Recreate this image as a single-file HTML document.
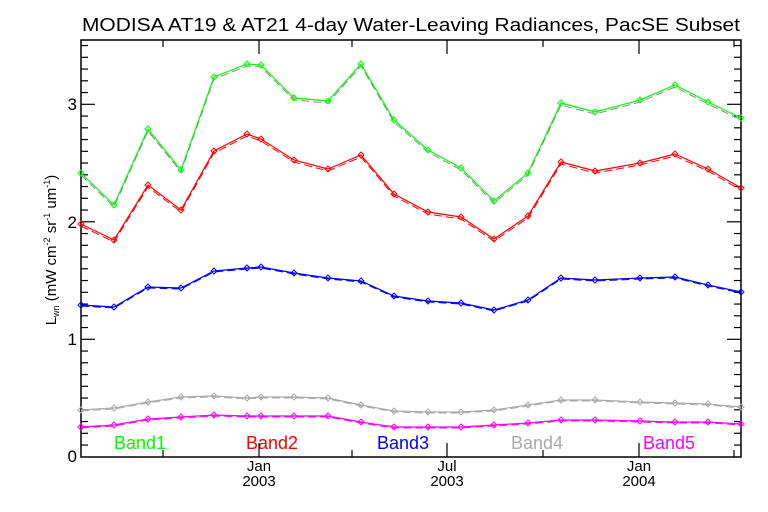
<!DOCTYPE html><html><head><style>body{margin:0;background:#fff}svg{display:block}text{font-family:"Liberation Sans",sans-serif}</style></head><body>
<svg id="s" width="768" height="512" xmlns="http://www.w3.org/2000/svg">
<rect width="768" height="512" fill="#fff"/>
<text x="82" y="31" font-size="18" textLength="658" lengthAdjust="spacingAndGlyphs">MODISA AT19 &amp; AT21 4-day Water-Leaving Radiances, PacSE Subset</text>
<rect x="81" y="40" width="660" height="417" fill="none" stroke="#000" stroke-width="1.5"/>
<g font-size="17" text-anchor="end"><text x="77" y="462">0</text><text x="77" y="345">1</text><text x="77" y="228">2</text><text x="77" y="110">3</text></g>
<g font-size="15" text-anchor="middle"><text x="259" y="471">Jan</text><text x="259" y="486">2003</text><text x="447" y="471">Jul</text><text x="447" y="486">2003</text><text x="639" y="471">Jan</text><text x="639" y="486">2004</text></g>
<text transform="translate(56,250) rotate(-90)" font-size="15" text-anchor="middle">L<tspan font-size="9" dy="3">wn</tspan><tspan dy="-3"> (mW cm</tspan><tspan font-size="9" dy="-6">-2</tspan><tspan dy="6"> sr</tspan><tspan font-size="9" dy="-6">-1</tspan><tspan dy="6"> um</tspan><tspan font-size="9" dy="-6">-1</tspan><tspan dy="6">)</tspan></text>
<g font-size="18"><text x="114" y="449" fill="#00ff00">Band1</text><text x="246" y="449" fill="#ff0000">Band2</text><text x="377" y="449" fill="#0000ff">Band3</text><text x="511" y="449" fill="#aaaaaa">Band4</text><text x="643" y="449" fill="#ff00ff">Band5</text></g>
<g id="g"></g>
</svg>
<script>
var g=document.getElementById('g'),h='';
function ln(a,b,c,d,col,w,da){h+='<line x1="'+a+'" y1="'+b+'" x2="'+c+'" y2="'+d+'" stroke="'+(col||'#000')+'" stroke-width="'+(w||1.2)+'"'+(da?' stroke-dasharray="'+da+'"':'')+'/>';}
for(var i=1;i<36;i++){var y=456.8-i*11.75;var L=i%10==0?14:7;ln(81,y,81+L,y);ln(741,y,741-L,y);}
[[163,7],[259,14],[352,7],[447,14],[543,7],[639,14],[734,7]].forEach(function(t){ln(t[0],457,t[0],457-t[1]);ln(t[0],40,t[0],40+t[1]);});
var X=[81,114,148,181,214,247,261,294,328,361,394,428,461,494,528,561,595,640,675,708,741];
var S=[['#00ff00',[173,205,129,170,77,64,65,98,101,64,120,150,168,201,173,103,112,100,85,102,118]],
['#ff0000',[224,240,185,210,151,134,139,160,169,155,194,212,217,239,216,162,171,163,154,169,188]],
['#0000ff',[305,307,287,288,271,268,267,273,278,281,296,301,303,310,300,278,280,278,277,285,292]],
['#aaaaaa',[410,408,402,397,396,398,397,397,398,405,411,412,412,410,405,400,400,402,403,404,407]],
['#ff00ff',[427,425,419,417,415,416,416,416,416,422,427,427,427,425,423,420,420,421,422,422,424]]];
S.forEach(function(s,k){var c=s[0],v=s[1],p='',q='';
for(var i=0;i<X.length;i++){p+=X[i]+','+v[i]+' ';q+=X[i]+','+(v[i]+(k<2?2:1))+' ';}
h+='<polyline points="'+q+'" fill="none" stroke="'+(k==0?'#888':c)+'" stroke-width="1" stroke-dasharray="8,4"/>';
h+='<polyline points="'+p+'" fill="none" stroke="'+c+'" stroke-width="1.2"/>';
for(var i=0;i<X.length;i++){h+='<path d="M'+X[i]+','+(v[i]-3)+'l3,3l-3,3l-3,-3z" fill="none" stroke="'+c+'"/>';}
});
g.innerHTML=h;
</script>
</body></html>
